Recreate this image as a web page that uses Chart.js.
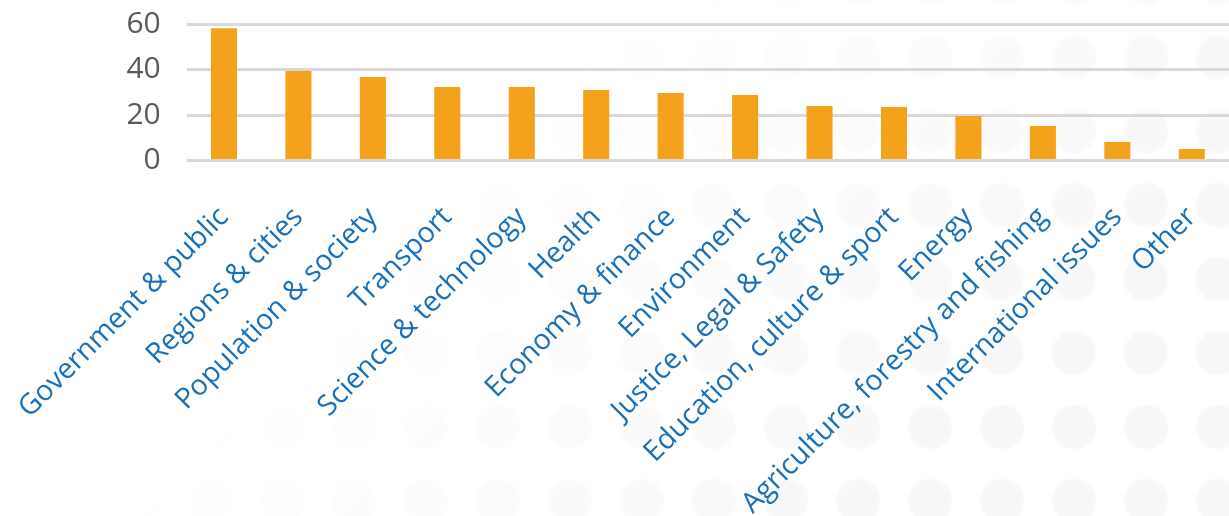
<!DOCTYPE html>
<html>
<head>
<meta charset="utf-8">
<script src="https://cdn.jsdelivr.net/npm/chart.js@4"></script>
<style>
  html, body { margin: 0; padding: 0; background: #fff; }
  #wrap { position: relative; width: 1229px; height: 516px; overflow: hidden; }
  #dots {
    position: absolute; inset: 0;
    background-image: radial-gradient(circle, #f7f7f7 0, #f7f7f7 20px, rgba(255,255,255,0) 24px);
    background-size: 72px 74px;
    background-position: 30px 20px;
    -webkit-mask-image: linear-gradient(135deg, rgba(0,0,0,0) 35%, rgba(0,0,0,1) 80%);
    mask-image: linear-gradient(135deg, rgba(0,0,0,0) 35%, rgba(0,0,0,1) 80%);
  }
  canvas { position: absolute; left: 0; top: 0; }
</style>
</head>
<body>
<div id="wrap">
  <div id="dots"></div>
  <canvas id="chart" width="1229" height="516"></canvas>
</div>
<script>
  "use strict";

  const categories = [
    "Government & public",
    "Regions & cities",
    "Population & society",
    "Transport",
    "Science & technology",
    "Health",
    "Economy & finance",
    "Environment",
    "Justice, Legal & Safety",
    "Education, culture & sport",
    "Energy",
    "Agriculture, forestry and fishing",
    "International issues",
    "Other"
  ];

  const counts = [58.4, 39.5, 36.8, 32.4, 32.4, 31.1, 29.8, 28.9, 24.0, 23.6, 19.6, 15.2, 8.2, 5.1];

  const yTicks = [0, 20, 40, 60];

  const BAR = "#f4a11c";
  const GRID = "#d9d9d9";

  new Chart(document.getElementById("chart").getContext("2d"), {
    type: "bar",
    data: {
      labels: categories,
      datasets: [{
        data: counts,
        backgroundColor: BAR,
        borderWidth: 0,
        barPercentage: 0.35,
        categoryPercentage: 1
      }]
    },
    options: {
      responsive: false,
      animation: false,
      devicePixelRatio: 1,
      layout: { padding: { top: 24.5, left: 0, right: 0, bottom: 0 } },
      plugins: { legend: { display: false }, tooltip: { enabled: false } },
      scales: {
        x: {
          grid: { display: false, drawTicks: false },
          border: { display: false },
          ticks: {
            autoSkip: false,
            minRotation: 45,
            maxRotation: 45,
            padding: 40,
            color: "#1870b8",
            font: { family: '"Open Sans", sans-serif', size: 28.5 }
          },
          afterFit: function (scale) {
            scale.height = 516 - 160.5;
            scale.paddingLeft = 0;
            scale.paddingRight = 0;
            scale.paddingTop = 0;
            scale.paddingBottom = 0;
          }
        },
        y: {
          min: 0,
          max: 60,
          afterBuildTicks: function (scale) {
            scale.ticks = yTicks.map(function (v) { return { value: v }; });
          },
          grid: { color: GRID, lineWidth: 3, drawTicks: false },
          border: { display: false },
          ticks: {
            autoSkip: false,
            padding: 26,
            color: "#595959",
            font: { family: '"Open Sans", sans-serif', size: 30 }
          },
          afterFit: function (scale) {
            scale.width = 186.75;
            scale.paddingTop = 0;
            scale.paddingBottom = 0;
          }
        }
      }
    }
  });
</script>
</body>
</html>
